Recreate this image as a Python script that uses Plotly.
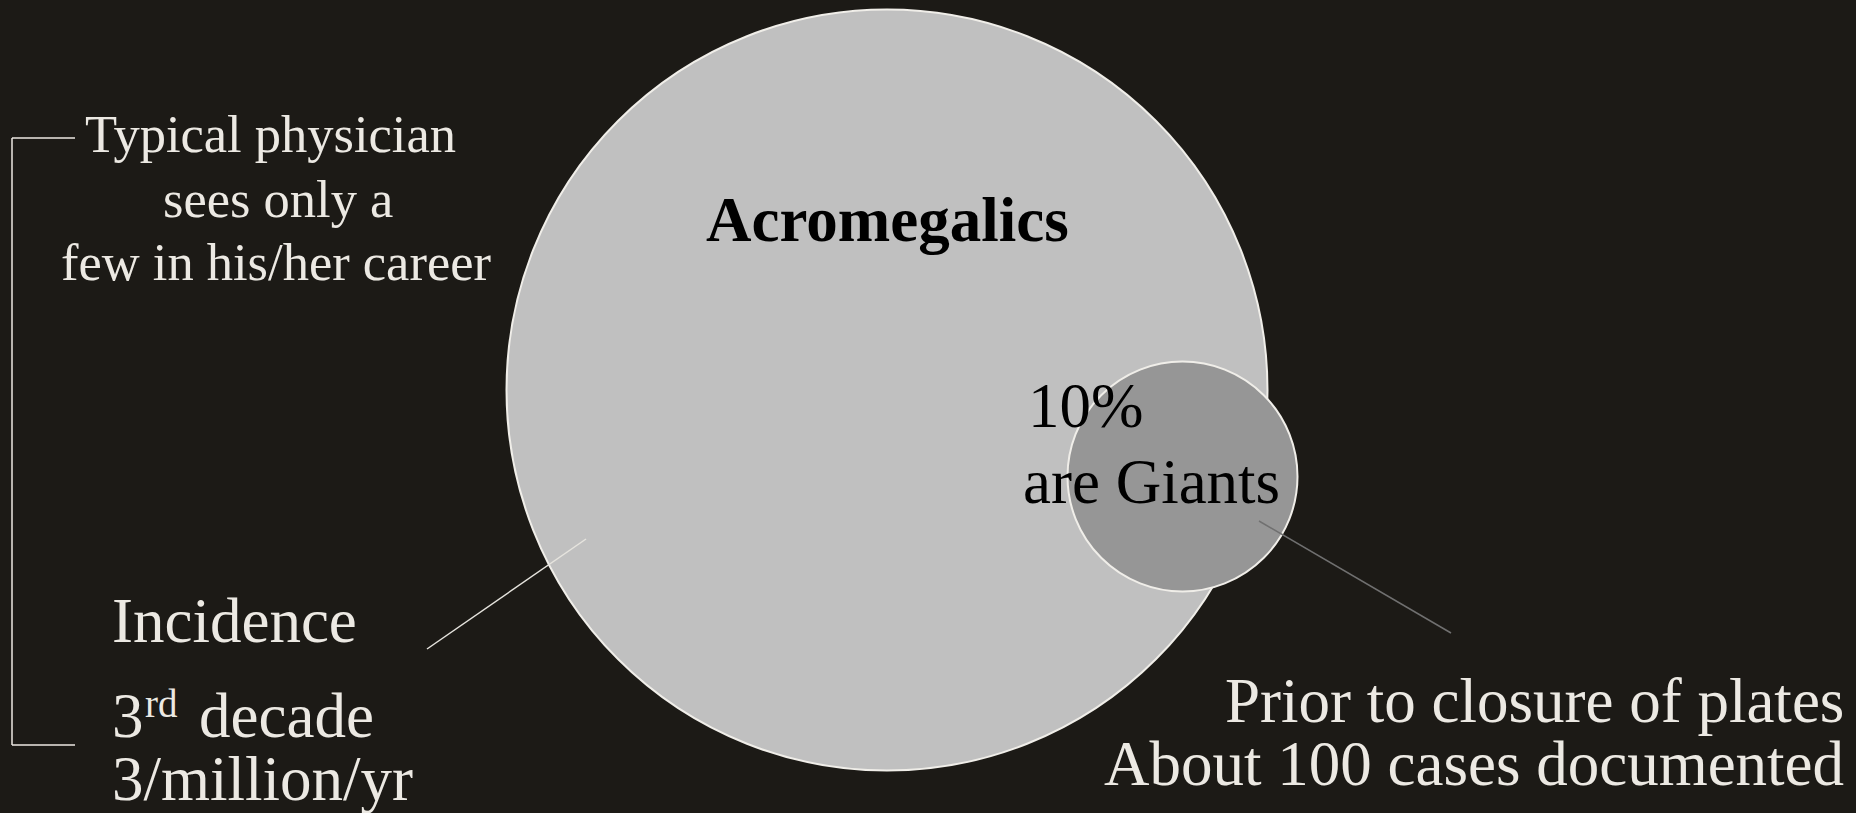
import plotly.graph_objects as go

W, H = 1856, 813

# Venn-style circles (center x, center y, radius) in pixel-like data units
circle_names = ["Acromegalics", "Giants"]
circle_cx = [887, 1182.5]
circle_cy = [390, 476.5]
circle_r = [380.5, 115]
circle_fill = ["#c0c0c0", "#969696"]

giant_share_label = ["10%", "are Giants"]
physician_lines = ["Typical physician", "sees only a", "few in his/her career"]
incidence_lines = ["Incidence", "3", "rd", "decade", "3/million/yr"]
giant_note_lines = ["Prior to closure of plates", "About 100 cases documented"]

BG = "#1c1a16"
TXT = "#ece9e3"
OUT = "#f0eee9"
SERIF = "Liberation Serif, Times New Roman, serif"

fig = go.Figure()
fig.add_trace(go.Scatter(x=[0, W], y=[0, H], mode="markers",
                         marker=dict(opacity=0), hoverinfo="skip", showlegend=False))

shapes = []
for cx, cy, r, fc in zip(circle_cx, circle_cy, circle_r, circle_fill):
    shapes.append(dict(type="circle", xref="x", yref="y",
                       x0=cx - r, x1=cx + r, y0=cy - r, y1=cy + r,
                       fillcolor=fc, line=dict(color=OUT, width=2), layer="above"))

# bracket on the left
shapes += [
    dict(type="line", x0=12, x1=75, y0=138, y1=138, line=dict(color=TXT, width=1.5)),
    dict(type="line", x0=12, x1=12, y0=138, y1=745, line=dict(color=TXT, width=1.5)),
    dict(type="line", x0=12, x1=75, y0=745, y1=745, line=dict(color=TXT, width=1.5)),
    # pointer from Incidence to big circle
    dict(type="line", x0=427, x1=586, y0=649, y1=539, line=dict(color="#e6e4de", width=1.5)),
    # pointer from small circle to bottom-right note
    dict(type="line", x0=1259, x1=1451, y0=521, y1=633, line=dict(color="#707070", width=1.5)),
]
for s in shapes:
    s.setdefault("xref", "x")
    s.setdefault("yref", "y")
    s.setdefault("layer", "above")

ann = []
def add(text, x, y, size, color, xanchor, yanchor="top"):
    ann.append(dict(text=text, x=x, y=y, xref="x", yref="y", showarrow=False,
                    xanchor=xanchor, yanchor=yanchor, borderpad=0, borderwidth=0,
                    font=dict(family=SERIF, size=size, color=color)))

add("<b>" + circle_names[0] + "</b>", 887, 185, 63, "#000000", "center")

for txt, cx, top in zip(physician_lines, [270.5, 278, 276], [105, 170, 233]):
    add(txt, cx, top, 52.5, TXT, "center")

add(incidence_lines[0], 112, 586, 63, TXT, "left")
add(incidence_lines[1], 112, 681, 63, TXT, "left")
add(incidence_lines[2], 145, 682, 39, TXT, "left")
add(incidence_lines[3], 199, 681, 63, TXT, "left")
add(incidence_lines[4], 112, 744, 63, TXT, "left")

add(giant_share_label[0], 1028, 371, 63, "#000000", "left")
add(giant_share_label[1], 1023, 447, 63, "#000000", "left")

add(giant_note_lines[0], 1844, 666, 63, TXT, "right")
add(giant_note_lines[1], 1844, 729, 63, TXT, "right")

fig.update_layout(
    width=W, height=H,
    margin=dict(l=0, r=0, t=0, b=0),
    paper_bgcolor=BG, plot_bgcolor=BG,
    xaxis=dict(range=[0, W], visible=False, fixedrange=True),
    yaxis=dict(range=[H, 0], visible=False, fixedrange=True),
    shapes=shapes, annotations=ann,
    showlegend=False, hovermode=False,
)

fig.write_html(
    "out.html",
    config={"displayModeBar": False},
    post_script="document.body.style.margin='0';document.body.style.overflow='hidden';"
                "document.body.style.background='" + BG + "';",
)
